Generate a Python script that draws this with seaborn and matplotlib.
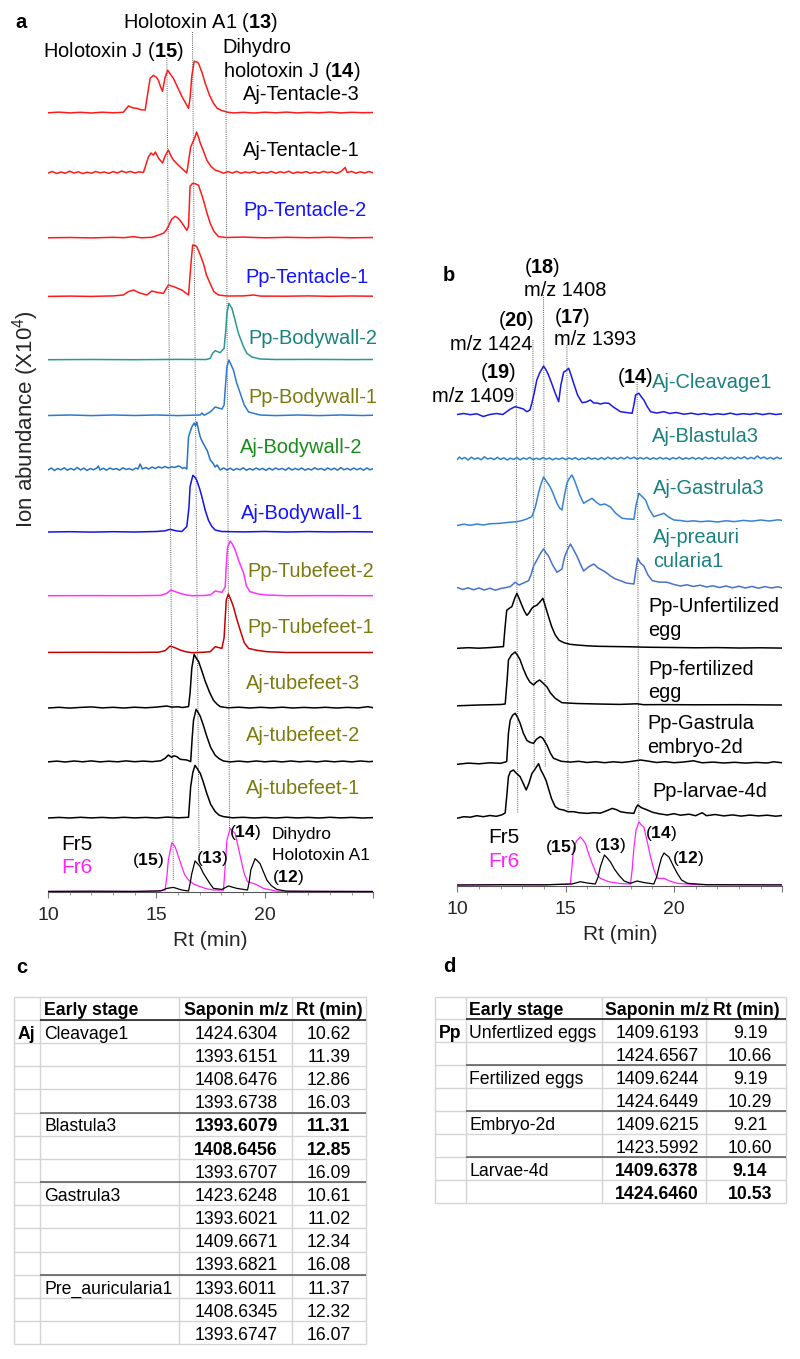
import matplotlib
matplotlib.use('Agg')
import matplotlib.pyplot as plt
import seaborn as sns
import pandas as pd

# ---------------- panel a : chromatogram traces (Rt in min, height) ----------------
aj_tentacle3 = [(10.0, 0.5), (10.5, 1.2), (11.0, 0.4), (11.5, 1.0), (12.0, 0.3), (12.5, 1.1), (13.0, 0.5),
                (13.47, 1.0), (13.71, 7.3), (13.9, 5.5), (14.09, 5.0), (14.3, 3.5), (14.48, 3.3), (14.6, 20),
                (14.71, 35), (14.86, 38), (15.0, 36), (15.09, 33), (15.2, 26), (15.28, 22), (15.4, 36),
                (15.52, 43), (15.65, 39), (15.78, 35), (16.0, 25), (16.17, 17), (16.35, 10), (16.48, 5),
                (16.55, 15), (16.63, 37), (16.74, 52), (16.85, 51.5), (16.94, 50), (17.1, 41), (17.25, 30),
                (17.45, 18), (17.63, 10), (17.8, 5), (18.02, 2.7), (18.3, 1.0), (18.6, 0.4), (19.0, 1.0),
                (19.5, 0.3), (20.0, 1.1), (20.5, 0.5), (21.0, 1.2), (21.5, 0.4), (22.0, 1.0), (22.5, 0.5),
                (23.0, 1.2), (23.5, 0.4), (24.0, 1.0), (24.5, 0.6), (25.0, 0.8)]
aj_tentacle1 = [(10.0, 1.0), (10.2, 2.5), (10.4, 0.5), (10.6, 2.0), (10.8, 0.8), (11.0, 2.8), (11.2, 1.0),
                (11.4, 2.2), (11.6, 0.4), (11.8, 1.8), (12.0, 0.8), (12.2, 2.5), (12.4, 1.2), (12.6, 2.0),
                (12.8, 0.6), (13.0, 2.4), (13.2, 1.0), (13.4, 3.0), (13.6, 1.4), (13.8, 2.6), (14.0, 1.0),
                (14.2, 2.2), (14.4, 1.5), (14.63, 17), (14.75, 21), (14.86, 19), (14.95, 22), (15.09, 16),
                (15.28, 11), (15.4, 18), (15.55, 24), (15.65, 19), (15.78, 14), (16.0, 9), (16.25, 4),
                (16.4, 1), (16.58, 27), (16.7, 33), (16.78, 37), (16.85, 42), (16.92, 38), (17.02, 31),
                (17.15, 24), (17.32, 14), (17.5, 8), (17.7, 4), (17.9, 2.5), (18.1, 0.8), (18.3, 2.4),
                (18.5, 1.0), (18.7, 2.6), (18.9, 0.8), (19.1, 2.0), (19.3, 1.2), (19.5, 2.4), (19.7, 0.6),
                (19.9, 1.8), (20.1, 1.0), (20.3, 2.6), (20.5, 0.8), (20.7, 2.2), (20.9, 1.2), (21.1, 2.8),
                (21.3, 0.6), (21.5, 2.0), (21.7, 1.2), (21.9, 2.4), (22.1, 0.8), (22.3, 2.0), (22.5, 1.0),
                (22.7, 2.6), (22.9, 1.4), (23.1, 2.2), (23.3, 0.6), (23.5, 2.4), (23.7, 6.5), (23.8, 1.5),
                (24.0, 2.6), (24.2, 0.8), (24.4, 2.2), (24.6, 1.0), (24.8, 2.4), (25.0, 1.2)]
pp_tentacle2 = [(10.0, 0.5), (11.0, 0.8), (12.0, 0.4), (13.0, 1.0), (13.5, 0.6), (13.94, 1.7), (14.3, 0.5),
                (14.8, 1.0), (15.32, 5), (15.45, 8), (15.55, 12), (15.7, 19), (15.86, 22), (16.0, 20),
                (16.09, 18), (16.25, 13), (16.4, 8), (16.48, 12), (16.55, 52), (16.67, 55), (16.8, 54.5),
                (16.94, 53), (17.05, 46), (17.17, 38), (17.32, 26), (17.48, 15), (17.65, 7), (17.86, 1.7),
                (18.2, 0.8), (19.0, 1.2), (20.0, 0.5), (21.0, 1.0), (22.0, 0.6), (23.0, 1.0), (24.0, 0.5),
                (25.0, 0.8)]
pp_tentacle1 = [(10.0, 0.3), (11.0, 0.6), (12.0, 0.3), (13.0, 0.8), (13.47, 1.7), (13.7, 5), (13.94, 6.7),
                (14.2, 4), (14.56, 1.7), (14.78, 5.7), (15.0, 4.5), (15.32, 3.3), (15.45, 8), (15.55, 11.7),
                (15.8, 10), (16.17, 6.7), (16.4, 3), (16.48, 1.7), (16.6, 35), (16.67, 51.7), (16.8, 51),
                (16.86, 50), (17.0, 43), (17.17, 33), (17.3, 22), (17.48, 13), (17.65, 5), (17.86, 1.7),
                (18.25, 0.7), (19.0, 0.8), (19.48, 1.7), (19.8, 0.6), (21.0, 0.5), (22.0, 0.8), (23.0, 0.4),
                (24.0, 0.7), (25.0, 0.5)]
pp_bodywall2 = [(10.0, 0.3), (12.0, 0.5), (14.0, 0.3), (16.0, 0.6), (17.3, 0.5), (17.48, 1.7), (17.6, 7),
                (17.71, 9.3), (17.94, 7.3), (18.12, 11.7), (18.2, 30), (18.25, 46.7), (18.34, 56.7),
                (18.48, 51.7), (18.6, 42), (18.78, 26.7), (19.0, 14), (19.17, 6.7), (19.4, 3), (19.78, 1),
                (20.5, 0.5), (22.0, 0.6), (24.0, 0.4), (25.0, 0.5)]
pp_bodywall1 = [(10.0, 0.5), (11.0, 1.0), (12.0, 0.4), (13.0, 1.0), (14.0, 0.5), (15.0, 1.0), (16.0, 0.4),
                (17.02, 1.0), (17.1, 3.0), (17.2, 0.8), (17.48, 4), (17.71, 9), (18.02, 7), (18.12, 11),
                (18.2, 35), (18.25, 49), (18.34, 56), (18.55, 46), (18.7, 33), (18.86, 23), (19.05, 11),
                (19.25, 4), (19.78, 1), (20.5, 0.4), (21.5, 1.0), (22.5, 0.4), (23.5, 1.0), (24.5, 0.5),
                (25.0, 0.8)]
aj_bodywall2 = [(10.0, 1.0), (10.15, 3.0), (10.3, 0.5), (10.45, 2.5), (10.6, 1.2), (10.75, 3.2), (10.9, 0.8),
                (11.05, 2.6), (11.2, 1.0), (11.35, 3.5), (11.5, 1.0), (11.65, 2.8), (11.8, 0.6), (11.95, 2.5),
                (12.1, 1.2), (12.25, 3.0), (12.32, 5.0), (12.4, 1.0), (12.55, 2.8), (12.7, 0.8), (12.85, 3.0),
                (13.0, 1.5), (13.15, 2.5), (13.3, 0.8), (13.45, 3.2), (13.6, 1.5), (13.75, 2.4), (13.9, 1.0),
                (14.05, 3.0), (14.15, 2.0), (14.25, 7.0), (14.35, 2.0), (14.5, 3.5), (14.65, 2.0), (14.8, 4.0),
                (14.95, 2.5), (15.1, 4.2), (15.25, 3.0), (15.4, 4.5), (15.55, 3.0), (15.7, 4.2), (15.85, 3.5),
                (16.0, 5.0), (16.09, 4.5), (16.2, 2.5), (16.3, 3.5), (16.4, 2.0), (16.48, 34), (16.63, 44),
                (16.74, 48), (16.8, 45), (16.86, 49), (16.95, 40), (17.02, 34), (17.1, 30), (17.25, 24),
                (17.35, 20), (17.48, 11), (17.6, 8), (17.71, 4), (17.8, 6), (17.94, 1), (18.1, 3.0),
                (18.25, 1.0), (18.4, 2.8), (18.55, 0.8), (18.7, 2.5), (18.85, 1.2), (19.0, 3.2), (19.15, 0.8),
                (19.3, 2.4), (19.45, 1.0), (19.6, 3.0), (19.75, 1.2), (19.9, 2.6), (20.05, 0.6), (20.2, 2.8),
                (20.35, 1.0), (20.5, 3.0), (20.65, 1.4), (20.8, 2.6), (20.95, 0.8), (21.1, 3.2), (21.25, 1.0),
                (21.4, 2.6), (21.55, 1.2), (21.7, 3.0), (21.85, 0.8), (22.0, 2.4), (22.15, 1.0), (22.3, 3.2),
                (22.45, 1.4), (22.6, 2.6), (22.75, 0.8), (22.9, 3.0), (23.05, 1.2), (23.2, 2.8), (23.35, 0.8),
                (23.5, 3.4), (23.65, 1.2), (23.8, 2.6), (23.95, 1.0), (24.1, 3.0), (24.25, 1.2), (24.4, 2.8),
                (24.55, 0.8), (24.7, 3.0), (24.85, 1.2), (25.0, 2.4)]
aj_bodywall1 = [(10.0, 0.3), (11.0, 0.6), (12.0, 0.2), (13.0, 0.6), (14.0, 0.3), (15.0, 0.8), (15.4, 1.5),
                (15.63, 3), (15.9, 1.5), (16.17, 0.8), (16.4, 5.7), (16.5, 25), (16.55, 45.7), (16.68, 57),
                (16.78, 55), (16.86, 52), (17.0, 43), (17.09, 36), (17.25, 22), (17.4, 12), (17.55, 6),
                (17.71, 2.3), (18.0, 0.8), (19.0, 0.4), (20.0, 0.8), (21.0, 0.3), (22.0, 0.7), (23.0, 0.4),
                (24.0, 0.6), (25.0, 0.4)]
pp_tubefeet2 = [(10.0, 0.3), (12.0, 0.4), (14.0, 0.3), (15.2, 0.6), (15.48, 2.7), (15.66, 6), (15.85, 4.5),
                (16.09, 2.7), (16.35, 1.2), (16.63, 0.3), (17.2, 0.5), (17.48, 1), (17.71, 5), (18.02, 3.7),
                (18.17, 9), (18.22, 30), (18.28, 49), (18.4, 55), (18.5, 52), (18.63, 46), (18.8, 35),
                (19.02, 23), (19.15, 10), (19.32, 4.3), (19.7, 2), (20.09, 1), (21.0, 0.3), (23.0, 0.4),
                (25.0, 0.3)]
pp_tubefeet1 = [(10.0, 0.3), (12.0, 0.4), (14.0, 0.3), (15.1, 0.5), (15.4, 2), (15.63, 6.7), (15.85, 5),
                (16.09, 2.7), (16.35, 1), (16.63, 0), (17.2, 0.5), (17.48, 1), (17.71, 6), (18.02, 4.3),
                (18.12, 15), (18.22, 52.7), (18.32, 58.7), (18.45, 52), (18.55, 46), (18.7, 34), (18.86, 22.7),
                (19.05, 10), (19.25, 4.3), (19.6, 2.5), (20.09, 1), (21.0, 0.2), (23.0, 0.2), (25.0, 0.2)]
aj_tubefeet3 = [(10.0, 0.3), (10.5, 1.0), (11.0, 0.2), (11.5, 0.9), (12.0, 1.4), (12.5, 0.4), (13.0, 1.0),
                (13.5, 0.3), (14.0, 1.1), (14.5, 0.5), (15.0, 1.2), (15.48, 2.3), (15.7, 1.2), (16.0, 1.5),
                (16.2, 0.8), (16.48, 1.7), (16.55, 15), (16.63, 40), (16.74, 54), (16.84, 50), (16.94, 47),
                (17.1, 37), (17.25, 27), (17.45, 16), (17.63, 8), (17.8, 4), (17.94, 1.7), (18.3, 0.5),
                (18.8, 1.1), (19.3, 0.3), (19.8, 1.0), (20.3, 0.4), (20.8, 1.1), (21.3, 0.3), (21.8, 0.9),
                (22.3, 0.4), (22.8, 1.0), (23.3, 0.3), (23.8, 0.9), (24.3, 0.4), (24.75, 1.6), (25.0, 0.5)]
aj_tubefeet2 = [(10.0, 0.4), (10.4, 1.2), (10.8, 0.3), (11.2, 1.3), (11.6, 0.5), (12.0, 1.4), (12.4, 0.4),
                (12.8, 1.1), (13.2, 0.5), (13.6, 1.4), (14.0, 0.6), (14.4, 1.2), (14.8, 0.6), (15.2, 1.5),
                (15.4, 4), (15.55, 7.3), (15.7, 5), (15.8, 6.5), (15.94, 5.7), (16.1, 3), (16.4, 2.3),
                (16.58, 0.7), (16.65, 25), (16.71, 42), (16.83, 53), (16.92, 50), (17.02, 46), (17.15, 38),
                (17.32, 26), (17.5, 15), (17.71, 7), (17.9, 3.5), (18.09, 1.3), (18.4, 0.4), (18.8, 1.2),
                (19.2, 0.4), (19.6, 1.3), (20.0, 0.5), (20.4, 1.2), (20.8, 0.4), (21.2, 1.3), (21.6, 0.5),
                (22.0, 1.1), (22.4, 0.4), (22.8, 1.3), (23.2, 0.5), (23.6, 1.2), (24.0, 0.4), (24.4, 1.3),
                (24.8, 0.6), (25.0, 1.0)]
aj_tubefeet1 = [(10.0, 0.3), (10.5, 0.9), (11.0, 0.3), (11.5, 1.0), (12.0, 0.4), (12.5, 0.9), (13.0, 0.3),
                (13.5, 1.0), (14.0, 0.4), (14.5, 0.9), (15.0, 0.3), (15.5, 1.2), (16.0, 0.5), (16.48, 1),
                (16.58, 32), (16.68, 46), (16.78, 53), (16.9, 49), (17.02, 45), (17.15, 37), (17.32, 25),
                (17.5, 14), (17.71, 6.7), (17.9, 3), (18.09, 1.7), (18.5, 0.5), (19.0, 1.0), (19.5, 0.3),
                (20.0, 0.9), (20.5, 0.3), (21.0, 1.0), (21.5, 0.4), (22.0, 0.9), (22.5, 0.3), (23.0, 1.0),
                (23.5, 0.4), (24.0, 0.9), (24.5, 0.3), (25.0, 0.7)]
fr5_a = [(10.0, 0.3), (12.0, 0.5), (14.0, 0.3), (15.2, 0.8), (15.48, 3.3), (15.78, 4.3), (16.17, 1.7),
         (16.48, 0.7), (16.55, 8), (16.63, 18), (16.78, 30.7), (16.9, 28), (17.02, 25), (17.15, 19),
         (17.32, 13), (17.5, 7), (17.63, 3.3), (18.02, 2.3), (18.32, 5.7), (18.71, 3.3), (19.2, 1.7),
         (19.28, 10), (19.35, 21.7), (19.55, 33), (19.65, 31), (19.78, 28), (19.95, 19), (20.09, 11.7),
         (20.3, 6), (20.55, 2.3), (21.0, 0.5), (23.0, 0.3), (25.0, 0.2)]
fr6_a = [(10.0, 0.2), (12.0, 0.3), (14.0, 0.2), (15.0, 0.5), (15.4, 1.7), (15.48, 15), (15.55, 31.7),
         (15.71, 49), (15.86, 45), (16.0, 36), (16.17, 25), (16.3, 17), (16.48, 11.7), (16.71, 7.7),
         (17.02, 5), (17.3, 3), (17.63, 1.7), (18.09, 1.5), (18.17, 25), (18.25, 51.7), (18.4, 63.3),
         (18.5, 61), (18.63, 58), (18.8, 42), (18.94, 28), (19.05, 18), (19.2, 10), (19.55, 7.7),
         (19.94, 3.3), (20.55, 0.5), (22.0, 0.3), (25.0, 0.2)]

# ---------------- panel b : chromatogram traces ----------------
aj_cleavage1 = [(10.0, 0.5), (10.3, 1.5), (10.6, 0.3), (10.9, 1.2), (11.2, -1.5), (11.5, 0.5), (11.8, 1.5),
                (12.1, 0.5), (12.28, 3.3), (12.45, 6), (12.67, 8.3), (12.9, 7), (13.05, 6), (13.21, 3.3),
                (13.35, 5), (13.44, 11.7), (13.55, 22), (13.67, 35), (13.8, 42), (13.98, 49), (14.1, 45),
                (14.21, 40), (14.35, 32), (14.52, 21.7), (14.68, 13.3), (14.78, 30), (14.91, 43), (15.0, 44),
                (15.14, 46.7), (15.25, 40), (15.37, 31.7), (15.55, 20), (15.76, 12.3), (15.95, 13), (16.14, 15),
                (16.3, 12), (16.45, 12), (16.6, 11), (16.8, 12), (16.99, 11.7), (17.2, 8), (17.53, 3.3),
                (17.8, 2.5), (18.07, 1.7), (18.15, 10), (18.23, 20), (18.3, 21), (18.38, 21.7), (18.5, 18),
                (18.61, 15), (18.75, 9), (18.92, 3.3), (19.2, 2), (19.54, 3.3), (19.8, 1.5), (20.1, 2.5),
                (20.46, 0.8), (20.8, 1.8), (21.1, 0.5), (21.4, 1.5), (21.7, 0.3), (22.0, 1.2), (22.3, 0.5),
                (22.6, 1.8), (22.9, 0.4), (23.2, 1.3), (23.5, 0.6), (23.8, 1.6), (24.1, 0.4), (24.4, 1.5),
                (24.7, 0.5), (25.0, 1.2)]
aj_blastula3 = [(10.0, 0.5), (10.1, 3.0), (10.2, 1.0), (10.35, 2.5), (10.5, 0.0), (10.65, 2.8), (10.8, 0.8),
                (10.95, 2.2), (11.1, 0.2), (11.25, 3.2), (11.4, 1.0), (11.55, 2.0), (11.7, 0.4), (11.85, 2.6),
                (12.0, 0.6), (12.15, 2.2), (12.3, 0.0), (12.45, 1.8), (12.6, 0.6), (12.75, 2.4), (12.9, 0.2),
                (13.05, 2.0), (13.2, 0.8), (13.35, 2.6), (13.5, 0.3), (13.65, 1.8), (13.8, 0.5), (13.95, 2.4),
                (14.1, 0.8), (14.25, 2.0), (14.4, 0.2), (14.55, 1.8), (14.7, 0.6), (14.85, 2.2), (15.0, 0.4),
                (15.15, 2.0), (15.3, 0.8), (15.45, 2.4), (15.6, 0.2), (15.75, 1.8), (15.9, 0.6), (16.05, 2.6),
                (16.2, 0.8), (16.35, 2.0), (16.5, 0.4), (16.65, 2.4), (16.8, 0.6), (16.95, 2.8), (17.1, 1.0),
                (17.25, 2.4), (17.4, 0.8), (17.55, 2.6), (17.7, 1.0), (17.85, 3.0), (18.0, 1.2), (18.15, 2.8),
                (18.3, 0.8), (18.45, 2.4), (18.6, 1.0), (18.75, 2.6), (18.9, 0.6), (19.05, 2.2), (19.2, 0.8),
                (19.35, 2.6), (19.5, 1.0), (19.65, 2.2), (19.8, 0.4), (19.95, 2.4), (20.1, 1.0), (20.25, 2.8),
                (20.4, 0.6), (20.55, 2.2), (20.7, 1.0), (20.85, 2.6), (21.0, 0.8), (21.15, 2.4), (21.3, 0.6),
                (21.45, 2.8), (21.6, 1.2), (21.75, 2.4), (21.9, 0.8), (22.05, 2.6), (22.2, 1.0), (22.35, 3.0),
                (22.5, 1.2), (22.65, 2.6), (22.8, 0.8), (22.95, 2.8), (23.1, 1.4), (23.25, 3.2), (23.4, 1.0),
                (23.55, 2.6), (23.7, 1.2), (23.85, 4.0), (24.0, 1.4), (24.15, 3.0), (24.3, 1.0), (24.45, 2.6),
                (24.6, 0.8), (24.75, 2.8), (24.9, 1.2), (25.0, 2.4)]
aj_gastrula3 = [(10.0, -0.5), (10.3, 0.8), (10.6, -0.3), (10.9, 1.0), (11.2, 0.0), (11.5, 1.2), (11.98, 1.7),
                (12.3, 2.5), (12.55, 3.0), (12.75, 3.3), (13.0, 4.5), (13.2, 6), (13.44, 8.3), (13.6, 18),
                (13.75, 32), (13.85, 40), (13.98, 48), (14.1, 44), (14.29, 38), (14.45, 30), (14.6, 21.7),
                (14.72, 17), (14.83, 15), (14.95, 30), (15.06, 41.7), (15.15, 46), (15.29, 50), (15.4, 45),
                (15.52, 38), (15.65, 30), (15.83, 21.7), (16.0, 24), (16.22, 26.7), (16.4, 23), (16.6, 20),
                (16.8, 21), (17.07, 18), (17.3, 12), (17.61, 6.7), (17.9, 6), (18.15, 5.7), (18.25, 20),
                (18.38, 31.7), (18.5, 29), (18.69, 25), (18.85, 16), (19.07, 8.3), (19.3, 10), (19.54, 11.7),
                (19.75, 8), (20.0, 5), (20.3, 4.5), (20.6, 3.5), (20.9, 4.2), (21.23, 3.3), (21.6, 4.0),
                (22.0, 3.0), (22.4, 4.2), (22.8, 3.4), (23.2, 4.6), (23.6, 3.8), (24.0, 5.0), (24.4, 4.0),
                (24.8, 5.2), (25.0, 4.6)]
aj_preauricularia1 = [(10.0, 1.5), (10.25, -0.5), (10.5, 1.2), (10.75, -0.8), (11.0, 1.0), (11.25, -1.0),
                      (11.5, 0.8), (11.75, -1.2), (12.0, 0.5), (12.25, 1.5), (12.45, 2.5), (12.67, 6.7),
                      (12.85, 4), (13.05, 6), (13.29, 8.3), (13.4, 14), (13.52, 23), (13.7, 30), (13.85, 36),
                      (13.98, 40), (14.1, 36), (14.21, 33), (14.4, 24), (14.6, 16.7), (14.83, 20), (14.95, 32),
                      (15.1, 40), (15.22, 45), (15.35, 40), (15.52, 33), (15.7, 24), (15.83, 18), (16.05, 22),
                      (16.3, 25), (16.5, 21), (16.76, 18), (16.9, 16), (17.07, 13), (17.3, 10), (17.53, 8.3),
                      (17.8, 6), (18.15, 5), (18.25, 20), (18.33, 30.7), (18.45, 26), (18.61, 23), (18.8, 14),
                      (19.0, 8.3), (19.3, 7), (19.69, 6.7), (20.0, 4.5), (20.3, 3.0), (20.6, 4.2), (20.9, 2.5),
                      (21.2, 3.8), (21.5, 2.0), (21.8, 3.2), (22.1, 1.5), (22.4, 3.0), (22.7, 1.2), (23.0, 2.8),
                      (23.3, 1.0), (23.6, 2.6), (23.9, 0.8), (24.2, 2.4), (24.5, 1.0), (24.8, 2.2), (25.0, 1.0)]
pp_unfertilized = [(10.0, 0), (10.5, 0.6), (11.0, 0.1), (11.5, 0.7), (12.13, 1.7), (12.2, 20), (12.28, 38),
                   (12.4, 40), (12.52, 41.7), (12.65, 50), (12.75, 55), (12.85, 50), (12.98, 43), (13.1, 37),
                   (13.21, 33), (13.3, 35), (13.44, 40), (13.55, 42), (13.67, 43), (13.8, 46), (13.95, 50),
                   (14.05, 43), (14.21, 31.7), (14.35, 22), (14.52, 13.3), (14.7, 8), (14.91, 5.7), (15.2, 4),
                   (15.52, 3.3), (16.0, 2.5), (16.5, 2), (17.38, 1.7), (18.0, 1.5), (18.5, 1.2), (19.0, 1),
                   (20.0, 0.8), (21.0, 0.5), (22.0, 0.7), (23.0, 0.3), (24.0, 0.5), (25.0, 0.2)]
pp_fertilized = [(10.0, -0.8), (11.0, 0.0), (12.0, 0.5), (12.21, 1), (12.3, 25), (12.36, 45), (12.5, 50),
                 (12.67, 53), (12.8, 49), (12.9, 45), (13.05, 36), (13.21, 28), (13.35, 23), (13.52, 20),
                 (13.65, 23), (13.8, 25), (13.95, 22), (14.14, 18), (14.3, 12), (14.52, 6.7), (14.83, 2.3),
                 (15.5, 1.5), (16.5, 1.0), (17.5, 0.6), (18.3, 1.2), (18.6, 0.3), (19.5, 0.4), (21.0, 0.2),
                 (23.0, 0.3), (25.0, 0.0)]
pp_gastrula = [(10.0, -1.0), (10.5, 0.2), (11.0, -0.5), (11.5, 0.5), (12.0, 0.0), (12.28, 1.7), (12.36, 30),
               (12.44, 43), (12.55, 48), (12.67, 50), (12.78, 46), (12.9, 40), (13.05, 30), (13.21, 23),
               (13.35, 21), (13.52, 20), (13.65, 24), (13.83, 26.7), (13.95, 25), (14.14, 18), (14.3, 10),
               (14.44, 5), (14.8, 2), (15.2, 1.2), (15.6, 2.0), (16.0, 0.8), (16.4, 1.6), (16.8, 0.6),
               (17.2, 1.5), (17.6, 0.8), (18.0, 1.8), (18.46, 3.3), (18.8, 2.2), (19.2, 0.8), (19.6, 1.6),
               (20.0, 0.6), (20.4, 1.2), (20.9, 2.5), (21.3, 0.5), (21.8, 1.2), (22.3, 0.3), (22.8, 1.0),
               (23.3, 0.2), (23.8, 0.9), (24.3, 0.3), (24.6, 1.5), (25.0, 0.5)]
pp_larvae = [(10.0, -1.5), (10.3, 0.0), (10.6, -0.5), (10.9, 1.0), (11.2, 0.0), (11.5, 1.2), (11.8, 0.4),
             (12.05, 1.8), (12.21, 3.7), (12.3, 25), (12.36, 40), (12.45, 45), (12.59, 46.7), (12.7, 44),
             (12.9, 40), (13.05, 33), (13.18, 26.7), (13.3, 33), (13.44, 43), (13.6, 48), (13.75, 53),
             (13.85, 47), (13.98, 41.7), (14.1, 36), (14.21, 28), (14.35, 18), (14.52, 10), (14.7, 7.5),
             (14.91, 6.7), (15.1, 5), (15.37, 5), (15.6, 4), (15.99, 3.3), (16.3, 4), (16.6, 3.5), (16.9, 6),
             (17.15, 8.3), (17.35, 7), (17.53, 5), (17.8, 4), (18.15, 3.3), (18.25, 9), (18.33, 11.7),
             (18.5, 9), (18.77, 6.7), (19.0, 4.5), (19.3, 3), (19.69, 1.7), (20.0, 3.0), (20.3, 1.5),
             (20.7, 2.5), (21.0, 1.0), (21.3, 4.0), (21.5, 1.0), (21.9, 2.2), (22.3, 0.8), (22.7, 1.8),
             (23.1, 0.6), (23.5, 1.6), (23.9, 0.8), (24.3, 1.5), (24.7, 0.5), (25.0, 1.2)]
fr5_b = [(10.0, 0), (12.0, 0.3), (14.0, 0.2), (15.29, 1), (15.68, 3.3), (16.0, 2), (16.37, 1), (16.5, 8),
         (16.6, 18), (16.79, 30), (16.92, 27), (17.07, 23), (17.25, 16), (17.45, 10), (17.7, 4), (17.99, 1.7),
         (18.3, 4), (18.6, 2.5), (19.07, 1), (19.2, 8), (19.31, 18), (19.42, 27), (19.54, 32), (19.65, 30),
         (19.77, 28), (19.95, 20), (20.15, 11.7), (20.35, 5), (20.62, 1.7), (21.5, 0.3), (25.0, 0.1)]
fr6_b = [(10.0, 0), (12.0, 0.2), (14.0, 0.1), (15.22, 1), (15.3, 20), (15.37, 37), (15.5, 44), (15.68, 48),
         (15.8, 45), (15.91, 41.7), (16.05, 32), (16.22, 21.7), (16.4, 12), (16.6, 6.7), (16.99, 3.3),
         (17.5, 1.5), (17.99, 1), (18.07, 15), (18.15, 37), (18.25, 55), (18.38, 63), (18.5, 60),
         (18.61, 58), (18.75, 45), (18.92, 28), (19.08, 15), (19.23, 6.7), (19.54, 6.7), (19.8, 4),
         (20.15, 1.7), (21.0, 0.3), (25.0, 0.1)]

# sample names and colours
traces_a = [aj_tentacle3, aj_tentacle1, pp_tentacle2, pp_tentacle1, pp_bodywall2, pp_bodywall1,
            aj_bodywall2, aj_bodywall1, pp_tubefeet2, pp_tubefeet1, aj_tubefeet3, aj_tubefeet2, aj_tubefeet1]
names_a = ['Aj-Tentacle-3', 'Aj-Tentacle-1', 'Pp-Tentacle-2', 'Pp-Tentacle-1', 'Pp-Bodywall-2',
           'Pp-Bodywall-1', 'Aj-Bodywall-2', 'Aj-Bodywall-1', 'Pp-Tubefeet-2', 'Pp-Tubefeet-1',
           'Aj-tubefeet-3', 'Aj-tubefeet-2', 'Aj-tubefeet-1']
line_colors_a = ['#ff1a1a', '#ff1a1a', '#ff1a1a', '#ff1a1a', '#2a9696', '#2a7ad0', '#2672c4', '#1414e6',
                 '#ff33ff', '#c80000', 'black', 'black', 'black']
name_colors_a = ['black', 'black', '#1414ff', '#1414ff', '#1a8080', '#7a7a10', '#1a8a1a', '#1414ff',
                 '#7a7a10', '#7a7a10', '#7a7a10', '#7a7a10', '#7a7a10']
baselines_a = [113.3, 174, 238.3, 296.7, 360, 416, 471, 532.3, 596, 652.7, 708.3, 762.3, 818.3]
name_x_a = [243, 243, 243, 245, 248, 248, 240, 241, 247, 247, 246, 246, 246]
name_y_a = [100, 156, 216, 283, 344.3, 402.7, 453.3, 519.3, 576.7, 633.3, 689, 740.7, 794.3]

traces_b = [aj_cleavage1, aj_blastula3, aj_gastrula3, aj_preauricularia1, pp_unfertilized, pp_fertilized,
            pp_gastrula, pp_larvae]
names_b = ['Aj-Cleavage1', 'Aj-Blastula3', 'Aj-Gastrula3', 'Aj-preauri\ncularia1', 'Pp-Unfertilized\negg',
           'Pp-fertilized\negg', 'Pp-Gastrula\nembryo-2d', 'Pp-larvae-4d']
line_colors_b = ['#1a1ae6', '#2f7fcf', '#3583d2', '#4672cc', 'black', 'black', 'black', 'black']
name_colors_b = ['#1a8080'] * 4 + ['black'] * 4
baselines_b = [415, 460, 525, 589, 648.3, 705, 763.3, 816.7]
name_x_b = [652, 652, 653, 653, 648, 648, 647, 652]
name_y_b = [388.3, 441.7, 494.3, 543.3, 612.3, 675, 729.3, 797.3]

# dotted marker lines: (rt top, px top, rt bottom, px bottom)
guides_a = [(15.48, 58, 15.78, 880), (16.66, 32, 16.97, 860), (18.2, 72, 18.37, 833)]
guides_b = [(12.72, 388, 12.79, 813), (13.49, 340, 13.55, 768), (13.98, 295, 14.06, 767),
            (15.06, 345, 15.11, 810), (18.3, 382, 18.38, 823)]

# ---------------- tables c and d ----------------
c_stage = ['Cleavage1', '', '', '', 'Blastula3', '', '', 'Gastrula3', '', '', '', 'Pre_auricularia1', '', '']
c_mz = ['1424.6304', '1393.6151', '1408.6476', '1393.6738', '1393.6079', '1408.6456', '1393.6707',
        '1423.6248', '1393.6021', '1409.6671', '1393.6821', '1393.6011', '1408.6345', '1393.6747']
c_rt = ['10.62', '11.39', '12.86', '16.03', '11.31', '12.85', '16.09', '10.61', '11.02', '12.34', '16.08',
        '11.37', '12.32', '16.07']
c_bold = [False, False, False, False, True, True, False, False, False, False, False, False, False, False]
c_groups = [4, 7, 11]

d_stage = ['Unfertlized eggs', '', 'Fertilized eggs', '', 'Embryo-2d', '', 'Larvae-4d', '']
d_mz = ['1409.6193', '1424.6567', '1409.6244', '1424.6449', '1409.6215', '1423.5992', '1409.6378', '1424.6460']
d_rt = ['9.19', '10.66', '9.19', '10.29', '9.21', '10.60', '9.14', '10.53']
d_bold = [False, False, False, False, False, False, True, True]
d_groups = [2, 4, 6]
table_header = ['Early stage', 'Saponin m/z', 'Rt (min)']

# ---------------- figure ----------------
W, H = 800, 1359
sns.set_style('ticks')
plt.rcParams['font.family'] = ['Liberation Sans', 'DejaVu Sans']
plt.rcParams['mathtext.fontset'] = 'custom'
plt.rcParams['mathtext.rm'] = 'Liberation Sans'
plt.rcParams['mathtext.bf'] = 'Liberation Sans:bold'
plt.rcParams['mathtext.it'] = 'Liberation Sans:italic'

fig = plt.figure(figsize=(W / 100, H / 100), dpi=100)


def make_panel(x0, x1, ybot):
    ax = fig.add_axes([x0 / W, (H - ybot) / H, (x1 - x0) / W, ybot / H])
    ax.patch.set_alpha(0)
    return ax


def finish_panel(ax, ybot):
    ax.set_xlim(10, 25)
    ax.set_ylim(0, ybot)
    for s in ['left', 'top', 'right']:
        ax.spines[s].set_visible(False)
    ax.spines['bottom'].set_color('#555555')
    ax.spines['bottom'].set_linewidth(0.8)
    ax.set_xticks([10, 15, 20, 25])
    ax.set_xticklabels(['10', '15', '20', ''])
    ax.set_xticks(range(10, 26), minor=True)
    ax.tick_params(axis='x', which='major', bottom=True, length=4.5, width=0.8, color='#777777',
                   labelsize=14, pad=6)
    ax.tick_params(axis='x', which='minor', bottom=True, length=2.5, width=0.6, color='#888888')
    ax.set_yticks([])
    ax.set_ylabel('')
    ax.set_xlabel('Rt (min)', fontsize=15, labelpad=5)


def draw_trace(ax, pts, offset, color, lw):
    d = pd.DataFrame(pts, columns=['rt', 'ab'])
    d['y'] = d['ab'] + offset
    sns.lineplot(data=d, x='rt', y='y', ax=ax, color=color, linewidth=lw, sort=False, estimator=None)


def draw_guides(ax, guides, ybot):
    for rt0, p0, rt1, p1 in guides:
        ax.plot([rt0, rt1], [ybot - p0, ybot - p1], color='#555555', lw=0.7, ls=(0, (1, 1.2)), zorder=0)


# panel a
ybot_a = 892
ax_a = make_panel(48, 373.3, ybot_a)
draw_guides(ax_a, guides_a, ybot_a)
for pts, base, col in zip(traces_a, baselines_a, line_colors_a):
    draw_trace(ax_a, pts, ybot_a - base, col, 1.1)
draw_trace(ax_a, fr6_a, 0.3, '#ff22ff', 0.9)
draw_trace(ax_a, fr5_a, 0.3, 'black', 0.9)
finish_panel(ax_a, ybot_a)

# panel b
ybot_b = 886
ax_b = make_panel(457.3, 782.3, ybot_b)
draw_guides(ax_b, guides_b, ybot_b)
for pts, base, col in zip(traces_b, baselines_b, line_colors_b):
    draw_trace(ax_b, pts, ybot_b - base, col, 1.1)
draw_trace(ax_b, fr6_b, 1, '#ff22ff', 0.9)
draw_trace(ax_b, fr5_b, 1, 'black', 0.9)
finish_panel(ax_b, ybot_b)

# overlay in pixel coordinates for annotations and tables
ov = fig.add_axes([0, 0, 1, 1])
ov.set_xlim(0, W)
ov.set_ylim(H, 0)
ov.axis('off')


def txt(x, y, s, size=14.4, color='black', ha='left', weight='normal', **kw):
    ov.text(x, y, s, fontsize=size, color=color, ha=ha, va='baseline', fontweight=weight, **kw)


# panel letters
txt(15, 28, 'a', size=14.5, weight='bold')
txt(443, 281, 'b', size=14.5, weight='bold')
txt(16, 972.7, 'c', size=14.5, weight='bold')
txt(443, 971.7, 'd', size=14.5, weight='bold')

ov.text(26, 419, r'Ion abundance (X$\mathregular{10^4}$)', fontsize=16, rotation=90, ha='center', va='center')

# panel a header
txt(123, 28.3, r'Holotoxin A1 ($\mathbf{13}$)')
txt(42.7, 56.7, r'Holotoxin J ($\mathbf{15}$)')
txt(222.7, 53.3, 'Dihydro')
txt(222.7, 76.7, r'holotoxin J ($\mathbf{14}$)')

for name, col, x, y in zip(names_a, name_colors_a, name_x_a, name_y_a):
    txt(x, y, name, size=14.4, color=col)

txt(61.7, 850, 'Fr5', size=15)
txt(61.7, 873.3, 'Fr6', size=15, color='#ff22ff')
txt(131.7, 865, r'($\mathbf{15}$)', size=12.5)
txt(196, 863.3, r'($\mathbf{13}$)', size=12.5)
txt(229, 837.3, r'($\mathbf{14}$)', size=12.5)
txt(271.7, 839, 'Dihydro', size=12.5)
txt(271.7, 860, 'Holotoxin A1', size=12.5)
txt(271.7, 881.7, r'($\mathbf{12}$)', size=12.5)

# panel b header
txt(524, 273, r'($\mathbf{18}$)')
txt(524, 296, 'm/z 1408')
txt(498, 326, r'($\mathbf{20}$)')
txt(450, 350, 'm/z 1424')
txt(554, 322.7, r'($\mathbf{17}$)')
txt(554, 345, 'm/z 1393')
txt(480, 378.3, r'($\mathbf{19}$)')
txt(431.7, 401.7, 'm/z 1409')
txt(617, 383.3, r'($\mathbf{14}$)')

for name, col, x, y in zip(names_b, name_colors_b, name_x_b, name_y_b):
    for k, line in enumerate(name.split('\n')):
        txt(x, y + 23.3 * k, line, size=14.4, color=col)

txt(488.3, 843.3, 'Fr5', size=15)
txt(488.3, 867.3, 'Fr6', size=15, color='#ff22ff')
txt(545, 851.7, r'($\mathbf{15}$)', size=12.5)
txt(594, 850, r'($\mathbf{13}$)', size=12.5)
txt(645, 838.3, r'($\mathbf{14}$)', size=12.5)
txt(671.7, 862.7, r'($\mathbf{12}$)', size=12.5)


def draw_table(xe, y0, head_h, row_h, prefix, stage, mz, rt, bold, groups, text_x):
    n = len(mz)
    ye = [y0, y0 + head_h] + [y0 + head_h + row_h * (i + 1) for i in range(n)]
    light = '#d4d4d4'
    ov.hlines(ye, xe[0], xe[-1], color=light, lw=1)
    ov.vlines(xe, ye[0], ye[-1], color=light, lw=1)
    ov.hlines([ye[1]], xe[1], xe[-1], color='#222222', lw=1.2)
    ov.hlines([ye[1] + row_h * g for g in groups], xe[1], xe[-1], color='#555555', lw=1.1)
    fs = 12.7
    x_pre, x_stage, x_mz, x_rt = text_x
    hy = y0 + 18.5
    txt(x_stage, hy, table_header[0], size=fs, weight='bold')
    txt(x_mz, hy, table_header[1], size=fs, weight='bold', ha='center')
    txt((xe[3] + xe[4]) / 2, hy, table_header[2], size=fs, weight='bold', ha='center')
    txt(x_pre, ye[1] + 18.8, prefix, size=fs, weight='bold')
    for i in range(n):
        by = ye[1] + row_h * i + 18.8
        w = 'bold' if bold[i] else 'normal'
        if stage[i]:
            txt(x_stage, by, stage[i], size=fs)
        txt(x_mz, by, mz[i], size=fs, weight=w, ha='center')
        txt(x_rt, by, rt[i], size=fs, weight=w, ha='center')


draw_table([14, 40, 179.3, 292.3, 365.7], 996.7, 23.3, 23.16, 'Aj', c_stage, c_mz, c_rt, c_bold, c_groups,
           (17.3, 44.3, 236, 329))
draw_table([435, 466, 601.7, 706, 785.7], 996.7, 22.6, 22.93, 'Pp', d_stage, d_mz, d_rt, d_bold, d_groups,
           (439, 469.3, 657, 750))

fig.savefig('out.png', dpi=100)
